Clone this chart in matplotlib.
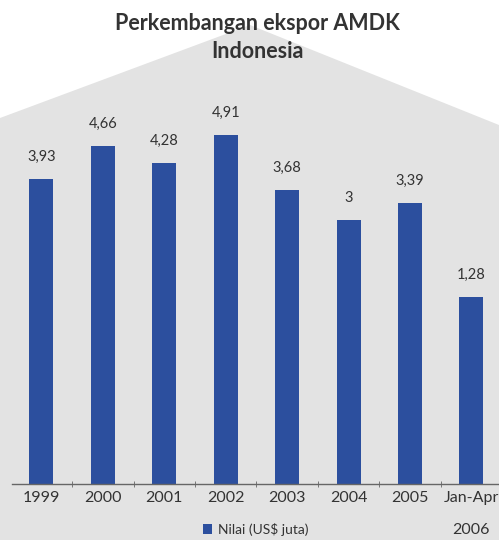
import matplotlib
matplotlib.use("Agg")
import matplotlib.pyplot as plt
from matplotlib.patches import Polygon
import numpy as np

plt.rcParams['font.family'] = ['Lato', 'DejaVu Sans']

# export value of bottled drinking water (AMDK), US$ million
years = ["1999", "2000", "2001", "2002", "2003", "2004", "2005", "Jan-Apr\n2006"]
nilai = [3.93, 4.66, 4.28, 4.91, 3.68, 3.00, 3.39, 1.28]
labels = ["3,93", "4,66", "4,28", "4,91", "3,68", "3", "3,39", "1,28"]

bar_color = "#2c4f9e"
text_color = "#333333"
ybase = -2.915

fig = plt.figure(figsize=(4.99, 5.40), dpi=100)
fig.patch.set_facecolor("white")

# grey backdrop behind the chart
W, H = 499, 540
shape = [(250, 25), (0, 118), (0, 540), (499, 540), (499, 125)]
fig.add_artist(Polygon([(px / W, 1 - py / H) for px, py in shape], closed=True,
                       transform=fig.transFigure, facecolor="#e3e3e3",
                       edgecolor="none", zorder=-10))

ax = fig.add_axes([0.024, 0.1037, 0.976, 0.711])
ax.set_facecolor("none")

x = np.arange(len(years))
ax.bar(x, np.array(nilai) - ybase, bottom=ybase, width=0.39,
       color=bar_color, label="Nilai (US$ juta)", zorder=2)

for xi, v, lab in zip(x, nilai, labels):
    ax.annotate(lab, (xi, v), xytext=(0, 11), textcoords="offset points",
                ha="center", va="bottom", fontsize=10.5, color=text_color)

ax.set_xlim(-0.48, 7.45)
ax.set_ylim(ybase, 5.695)

for s in ["top", "right", "left"]:
    ax.spines[s].set_visible(False)
ax.spines["bottom"].set_color("#666666")
ax.spines["bottom"].set_linewidth(1.0)
ax.set_yticks([])
ax.set_xticks(x)
ax.set_xticklabels(years, fontsize=11.5, color=text_color, linespacing=2.6, va="top")
ax.tick_params(axis="x", which="major", length=0, pad=5)
ax.set_xticks(x[:-1] + 0.5, minor=True)
ax.tick_params(axis="x", which="minor", length=4, direction="inout", color="#666666")

fig.text(0.515, 0.931, "Perkembangan ekspor AMDK\nIndonesia", ha="center", va="center",
         fontsize=15.5, fontweight="bold", color=text_color, linespacing=1.4)

ax.legend(loc="center", bbox_to_anchor=(0.50, -0.118), frameon=False, fontsize=10,
          handlelength=0.7, handleheight=0.7, handletextpad=0.4, labelcolor=text_color)

fig.savefig("out.png", dpi=100, facecolor=fig.get_facecolor())
